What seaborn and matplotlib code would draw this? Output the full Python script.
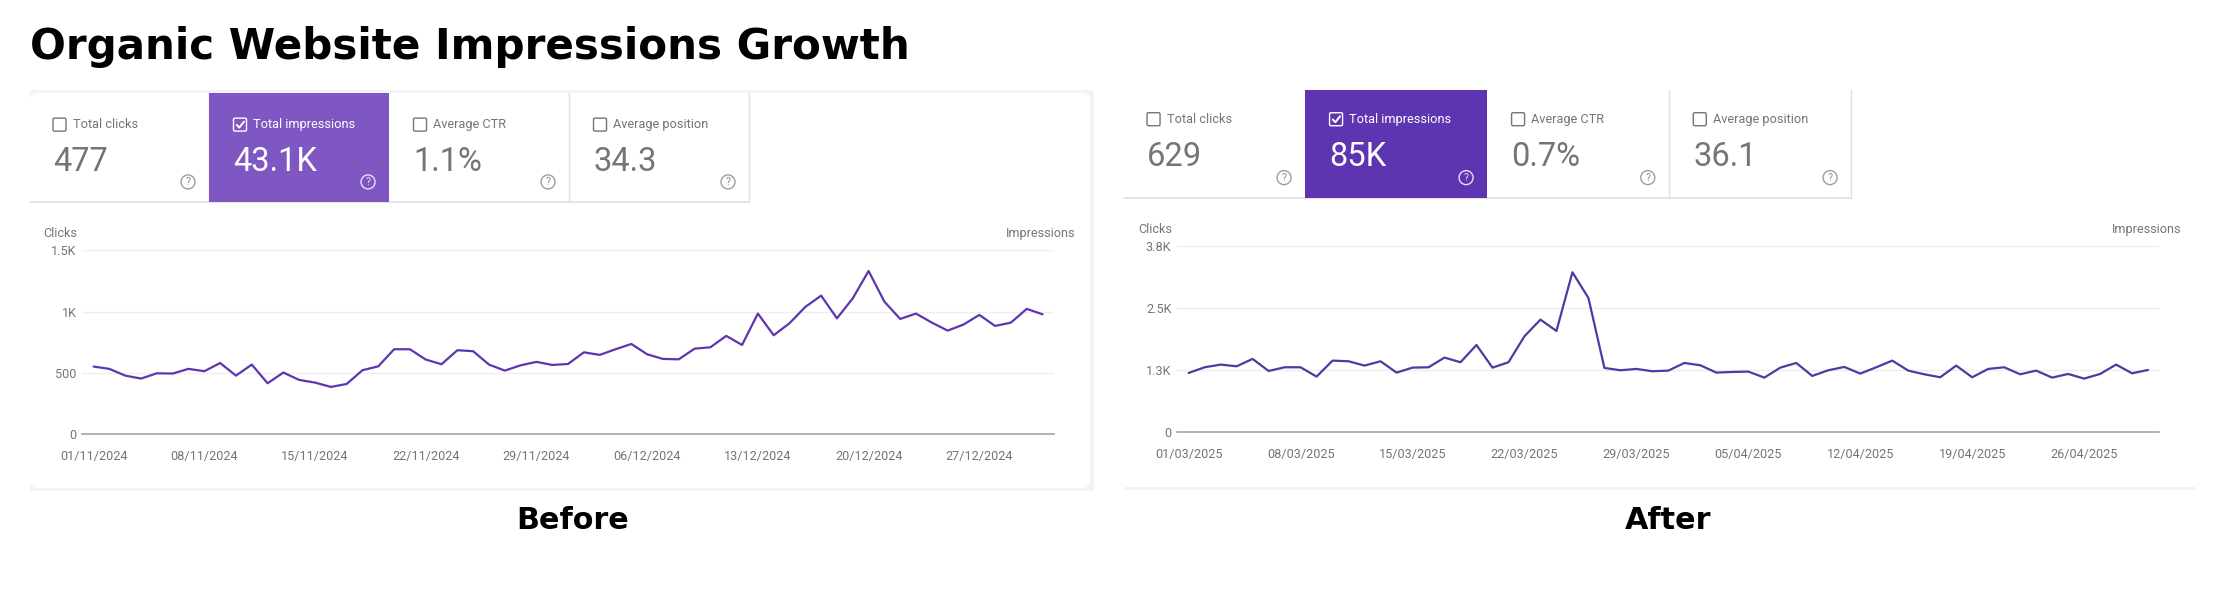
import matplotlib
matplotlib.use("Agg")
import matplotlib.pyplot as plt
from matplotlib.patches import FancyBboxPatch, Rectangle, Circle
import pandas as pd
import seaborn as sns

W, H = 2226, 601

tab_names = ["Total clicks", "Total impressions", "Average CTR", "Average position"]
before_totals = ["477", "43.1K", "1.1%", "34.3"]
after_totals = ["629", "85K", "0.7%", "36.1"]

before_impressions = [
    552, 533, 478, 454, 497, 495, 533, 514, 581, 478, 568, 416, 503, 443, 421, 386,
    410, 522, 554, 693, 693, 609, 571, 685, 677, 568, 519, 562, 590, 565, 573, 668,
    647, 693, 736, 652, 614, 611, 698, 709, 802, 728, 984, 807, 905, 1038, 1130, 945,
    1108, 1331, 1081, 940, 984, 910, 845, 894, 973, 883, 910, 1022, 978,
]
after_impressions = [
    1194, 1308, 1362, 1328, 1476, 1234, 1308, 1308, 1120, 1442, 1429, 1342, 1429, 1201,
    1301, 1308, 1503, 1409, 1757, 1301, 1409, 1932, 2267, 2039, 3220, 2703, 1295, 1248,
    1275, 1228, 1241, 1395, 1348, 1201, 1214, 1221, 1100, 1301, 1395, 1134, 1248, 1315,
    1181, 1308, 1442, 1241, 1167, 1107, 1342, 1107, 1275, 1308, 1167, 1241, 1100, 1174,
    1080, 1174, 1362, 1187, 1254,
]
before_start = "2024-11-01"
after_start = "2025-03-01"
before_yticks = [0, 500, 1000, 1500]
before_ylabels = ["0", "500", "1K", "1.5K"]
after_yticks = [0, 1250, 2500, 3750]
after_ylabels = ["0", "1.3K", "2.5K", "3.8K"]

TEXT_GRAY = "#757575"
GRID = "#eeeeee"
STRIP = "#f1f3fa"
BORDER = "#e0e0e0"
ROBOTO = ["Roboto", "DejaVu Sans"]

sns.set_theme(style="white")
plt.rcParams["font.family"] = ["DejaVu Sans"]

fig = plt.figure(figsize=((W + 0.1) / 100, (H + 0.1) / 100), dpi=100, facecolor="white")

# Full-figure layer addressed in pixels, holding the cards, tabs and captions
layer = fig.add_axes([0, 0, 1, 1])
layer.set_xlim(0, W)
layer.set_ylim(H, 0)
layer.axis("off")


def draw_tabs(edges, top, bottom, totals, fill, label_y, value_y, icon_y):
    for i, (name, total) in enumerate(zip(tab_names, totals)):
        x0, x1 = edges[i], edges[i + 1]
        active = i == 1
        if active:
            layer.add_patch(Rectangle((x0, top), x1 - x0, bottom - top, fc=fill, ec="none", zorder=3))
        else:
            layer.plot([x1, x1], [top, bottom], color=BORDER, lw=1, zorder=2)
        layer.plot([x0, x1], [bottom, bottom], color=BORDER, lw=1.2, zorder=2)
        ink = "white" if active else TEXT_GRAY
        box_x = x0 + 23 if i == 0 else x0 + 24.5
        layer.add_patch(FancyBboxPatch((box_x, label_y - 6.5), 13, 13,
                                       boxstyle="round,pad=0,rounding_size=1.5",
                                       fc="none", ec=ink, lw=1, zorder=4))
        if active:
            layer.plot([box_x + 3.2, box_x + 5.8, box_x + 10.5],
                       [label_y + 0.3, label_y + 3, label_y - 3],
                       color="white", lw=1.4, zorder=5)
        layer.text(box_x + 19.5, label_y, name, family=ROBOTO, fontsize=9.2, color=ink,
                   ha="left", va="center", zorder=5)
        layer.text(box_x, value_y, total, family=ROBOTO, fontsize=23.5, color=ink,
                   ha="left", va="center", zorder=5)
        icon_x = x1 - 21
        layer.add_patch(Circle((icon_x, icon_y), 7, fc="none",
                               ec="#e6e0f2" if active else "#9e9e9e", lw=1, zorder=5))
        layer.text(icon_x, icon_y, "?", family=ROBOTO, fontsize=7.5,
                   color="#e6e0f2" if active else "#8a8a8a",
                   ha="center", va="center", zorder=6)


def draw_chart(values, start, yticks, ylabels, x_span, y_span, first_x, last_x,
               clicks_x, imp_x, caption_y, line_color):
    left, right = x_span
    y_top, y_zero = y_span
    ax = fig.add_axes([left / W, 1 - y_zero / H, (right - left) / W, (y_zero - y_top) / H])
    ax.patch.set_alpha(0)

    frame = pd.DataFrame({"date": pd.date_range(start, periods=len(values), freq="D"),
                          "impressions": values})
    sns.lineplot(data=frame, x="date", y="impressions", ax=ax, color=line_color,
                 linewidth=1.6, clip_on=False)

    day_px = (last_x - first_x) / (len(values) - 1)
    first, last = frame["date"].iloc[0], frame["date"].iloc[-1]
    ax.set_xlim(first - pd.Timedelta(days=(first_x - left) / day_px),
                last + pd.Timedelta(days=(right - last_x) / day_px))
    ax.set_ylim(yticks[0], yticks[-1])

    weekly = frame["date"].iloc[::7]
    ax.set_xticks(weekly)
    ax.set_xticklabels(weekly.dt.strftime("%d/%m/%Y"), family=ROBOTO, fontsize=9.1, color=TEXT_GRAY)
    ax.set_yticks(yticks)
    ax.set_yticklabels(ylabels, family=ROBOTO, fontsize=9.1, color=TEXT_GRAY)
    ax.tick_params(axis="both", length=0)
    ax.tick_params(axis="x", pad=11)
    ax.tick_params(axis="y", pad=4)
    ax.set_xlabel("")
    ax.set_ylabel("")
    ax.grid(axis="y", color=GRID, lw=1)
    ax.grid(axis="x", visible=False)
    sns.despine(ax=ax, left=True, top=True, right=True)
    ax.spines["bottom"].set_color("#9e9e9e")
    ax.spines["bottom"].set_linewidth(1.1)

    layer.text(clicks_x, caption_y, "Clicks", family=ROBOTO, fontsize=9.1, color=TEXT_GRAY,
               ha="right", va="center")
    layer.text(imp_x, caption_y, "Impressions", family=ROBOTO, fontsize=9.1, color=TEXT_GRAY,
               ha="right", va="center")


# Before card
layer.add_patch(Rectangle((30, 90), 1064, 401, fc=STRIP, ec="none", zorder=0))
layer.add_patch(FancyBboxPatch((30, 93), 1060, 395, boxstyle="round,pad=0,rounding_size=8",
                               fc="white", ec="none", zorder=1))
draw_tabs([30, 209, 389, 569, 749], 93, 202.5, before_totals, "#7e57c2", 124.7, 161.5, 182)
draw_chart(before_impressions, before_start, before_yticks, before_ylabels,
           (82, 1054), (250.3, 434.3), 93.6, 1042.5, 77, 1075, 233.7, "#5e35b1")

# After card
layer.add_patch(Rectangle((1124, 486.7), 1072, 3.8, fc=STRIP, ec="none", zorder=0))
draw_tabs([1124, 1305, 1487, 1668.7, 1851], 90, 198, after_totals, "#5e35b1", 119.3, 156.8, 177.7)
draw_chart(after_impressions, after_start, after_yticks, after_ylabels,
           (1177, 2159), (246, 432.3), 1188.6, 2148, 1172.5, 2181, 229.7, "#4f3aa3")

layer.text(30, 46.5, "Organic Website Impressions Growth", fontsize=30.3, fontweight="bold",
           color="black", ha="left", va="center")
layer.text(573, 520.5, "Before", fontsize=21.8, fontweight="bold", color="black", ha="center", va="center")
layer.text(1668, 520.5, "After", fontsize=21.8, fontweight="bold", color="black", ha="center", va="center")

fig.savefig("out.png", dpi=100)
